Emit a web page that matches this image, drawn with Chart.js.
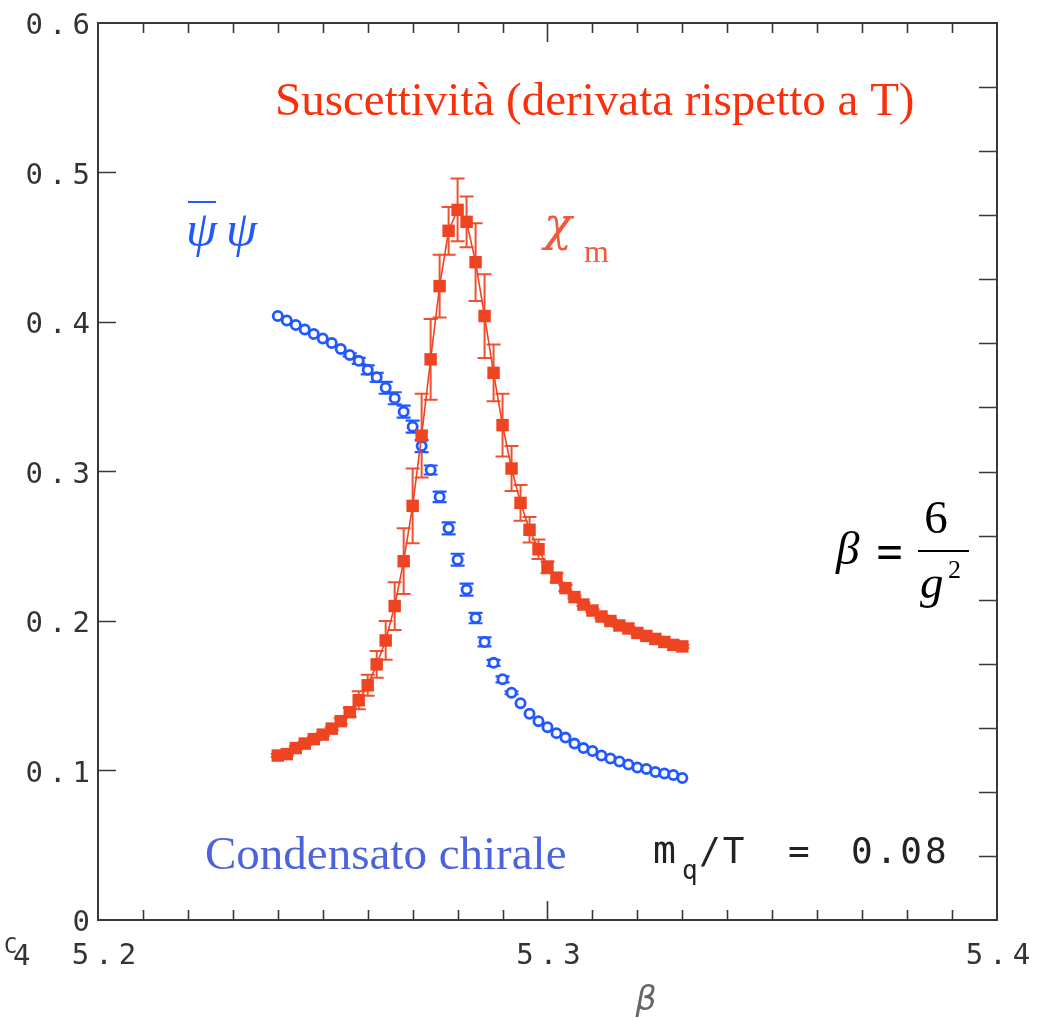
<!DOCTYPE html>
<html><head><meta charset="utf-8">
<script src="https://cdn.jsdelivr.net/npm/chart.js@4.4.1/dist/chart.umd.min.js"></script>
<style>html,body{margin:0;padding:0;background:#fff;}canvas{display:block;}</style>
</head><body>
<canvas id="c" width="1048" height="1018"></canvas>
<script>
// ---- data ----
const betaValues = [5.240,5.242,5.244,5.246,5.248,5.250,5.252,5.254,5.256,5.258,
  5.260,5.262,5.264,5.266,5.268,5.270,5.272,5.274,5.276,5.278,
  5.280,5.282,5.284,5.286,5.288,5.290,5.292,5.294,5.296,5.298,
  5.300,5.302,5.304,5.306,5.308,5.310,5.312,5.314,5.316,5.318,
  5.320,5.322,5.324,5.326,5.328,5.330];
const psiValues = [0.404,0.401,0.398,0.395,0.392,0.389,0.386,0.382,0.378,0.374,
  0.368,0.363,0.356,0.349,0.340,0.330,0.317,0.301,0.283,0.262,
  0.241,0.221,0.202,0.186,0.172,0.161,0.152,0.145,0.138,0.133,
  0.129,0.125,0.122,0.118,0.115,0.113,0.110,0.108,0.106,0.104,
  0.102,0.101,0.099,0.098,0.097,0.095];
const psiErrors = [0,0,0,0,0,0,0,0,0.001,0.002,
  0.003,0.003,0.004,0.004,0.004,0.004,0.004,0.003,0.0035,0.004,
  0.004,0.004,0.0035,0.003,0.002,0.002,0.001,0,0,0,
  0,0,0,0,0,0,0,0,0,0,
  0,0,0,0,0,0];
const chiValues = [0.110,0.111,0.115,0.118,0.121,0.124,0.128,0.133,0.139,0.147,
  0.157,0.171,0.187,0.210,0.240,0.277,0.324,0.375,0.424,0.461,
  0.475,0.467,0.440,0.404,0.366,0.331,0.302,0.279,0.261,0.248,
  0.236,0.229,0.222,0.216,0.211,0.207,0.203,0.200,0.197,0.195,
  0.192,0.190,0.188,0.186,0.184,0.183];
const chiErrors = [0.001,0.001,0.001,0.001,0.001,0.001,0.001,0.002,0.003,0.006,
  0.007,0.009,0.013,0.016,0.022,0.025,0.028,0.027,0.021,0.016,
  0.021,0.017,0.026,0.028,0.019,0.021,0.015,0.012,0.0085,0.0065,
  0.004,0.003,0.002,0.001,0.001,0.001,0.001,0.001,0.001,0.001,
  0.001,0.001,0.001,0.001,0.001,0.001];
const xTickLabels = [5.2, 5.3, 5.4];
const yTickLabels = [0, 0.1, 0.2, 0.3, 0.4, 0.5, 0.6];

// ---- styles ----
const RED = '#ee4422', BLUE = '#2158ff', AXIS = '#383838';
const MONO = '"DejaVu Sans Mono", monospace';
const SERIF = '"Liberation Serif", "Times New Roman", serif';

function txt(ctx, s, x, y, font, color, align, ls) {
  ctx.save();
  ctx.font = font; ctx.fillStyle = color;
  ctx.textAlign = align || 'left'; ctx.textBaseline = 'alphabetic';
  ctx.letterSpacing = ls || '0px';
  ctx.fillText(s, x, y);
  ctx.restore();
}
function line(ctx, x1, y1, x2, y2) { ctx.moveTo(x1, y1); ctx.lineTo(x2, y2); }

function drawErr(ctx, xs, ys, errs, sx, sy, color, lw, cap) {
  ctx.save(); ctx.strokeStyle = color; ctx.lineWidth = lw; ctx.beginPath();
  for (let i = 0; i < xs.length; i++) {
    const e = errs[i]; if (!e) continue;
    const px = sx.getPixelForValue(xs[i]);
    const y1 = sy.getPixelForValue(ys[i] + e), y2 = sy.getPixelForValue(ys[i] - e);
    line(ctx, px, y1, px, y2);
    line(ctx, px - cap, y1, px + cap, y1);
    line(ctx, px - cap, y2, px + cap, y2);
  }
  ctx.stroke(); ctx.restore();
}

const decor = {
  id: 'decor',
  beforeDatasetsDraw(chart) {
    const ctx = chart.ctx, sx = chart.scales.x, sy = chart.scales.y;
    drawErr(ctx, betaValues, psiValues, psiErrors, sx, sy, BLUE, 2.2, 7);
    drawErr(ctx, betaValues, chiValues, chiErrors, sx, sy, '#f05030', 2, 7);
  },
  afterDraw(chart) {
    const ctx = chart.ctx, sx = chart.scales.x, sy = chart.scales.y, sy2 = chart.scales.y2;
    const a = chart.chartArea;
    // inward ticks
    ctx.save(); ctx.strokeStyle = AXIS; ctx.lineWidth = 1.6; ctx.beginPath();
    for (let k = 1; k < 20; k++) {
      const v = 5.2 + k * 0.01;
      const px = Math.round(sx.getPixelForValue(v)) + 0.5;
      const len = (k === 10) ? 19 : 10;
      line(ctx, px, a.bottom, px, a.bottom - len);
      line(ctx, px, a.top, px, a.top + len);
    }
    for (let k = 1; k < 6; k++) {
      const py = Math.round(sy.getPixelForValue(k * 0.1)) + 0.5;
      line(ctx, a.left, py, a.left + 18, py);
    }
    for (let k = 1; k < 14; k++) {
      const py = Math.round(sy2.getPixelForValue(k)) + 0.5;
      line(ctx, a.right, py, a.right - 18, py);
    }
    ctx.stroke(); ctx.restore();

    // tick labels
    yTickLabels.forEach(v => {
      const py = sy.getPixelForValue(v);
      txt(ctx, String(v), 90 + 6, py + 11, '29px ' + MONO, '#333', 'right', '6px');
    });
    xTickLabels.forEach(v => {
      const px = sx.getPixelForValue(v);
      txt(ctx, v.toFixed(1), px + 4 + (v === 5.2 ? 5 : 0), 964, '29px ' + MONO, '#333', 'center', '6px');
    });
    txt(ctx, 'C', 4, 953, '22px ' + MONO, '#333', 'left');
    txt(ctx, '4', 13, 965, '29px ' + MONO, '#333', 'left');
    // axis title
    txt(ctx, 'β', 646, 1010, 'italic 33px "DejaVu Sans", sans-serif', '#666', 'center');

    // annotations
    txt(ctx, 'Suscettività (derivata rispetto a T)', 275, 115, '47px ' + SERIF, '#f8300c', 'left');
    txt(ctx, 'Condensato chirale', 205, 869, '47px ' + SERIF, '#4d63dc', 'left');
    // psi-bar psi
    txt(ctx, 'ψ', 186, 246, 'italic 50px ' + SERIF, BLUE, 'left');
    txt(ctx, 'ψ', 226, 246, 'italic 50px ' + SERIF, BLUE, 'left');
    ctx.save(); ctx.strokeStyle = BLUE; ctx.lineWidth = 2; ctx.beginPath();
    line(ctx, 188, 202, 216, 202); ctx.stroke(); ctx.restore();
    // chi_m
    txt(ctx, 'χ', 544, 240, 'italic 46px "DejaVu Serif", serif', '#f05a3a', 'left');
    txt(ctx, 'm', 584, 262, '32px ' + SERIF, '#f05a3a', 'left');
    // beta = 6/g^2
    txt(ctx, 'β', 836, 564, 'italic 47px ' + SERIF, '#000', 'left');
    txt(ctx, '=', 876, 568, 'bold 48px ' + SERIF, '#000', 'left');
    txt(ctx, '6', 936, 533, '47px ' + SERIF, '#000', 'center');
    ctx.save(); ctx.fillStyle = '#000'; ctx.fillRect(918, 550, 51, 2); ctx.restore();
    txt(ctx, 'g', 920, 598, 'italic 47px ' + SERIF, '#000', 'left');
    txt(ctx, '2', 948, 578, '26px ' + SERIF, '#000', 'left');
    // m_q/T = 0.08
    txt(ctx, 'm', 653, 863, '38px ' + MONO, '#222', 'left');
    txt(ctx, 'q', 682, 879, '26px ' + MONO, '#222', 'left');
    txt(ctx, '/T', 699, 863, '36px ' + MONO, '#222', 'left', '2px');
    txt(ctx, '=', 788, 863, '36px ' + MONO, '#222', 'left');
    txt(ctx, '0.08', 851, 863, '36px ' + MONO, '#222', 'left', '3px');
  }
};

const fixSize = (w, h) => s => { if (w != null) s.width = w; if (h != null) s.height = h; };
const baseScale = {
  grid: { display: false, drawTicks: false },
  border: { display: true, color: AXIS, width: 2 },
  ticks: { display: false }
};

new Chart(document.getElementById('c'), {
  type: 'scatter',
  data: {
    datasets: [
      {
        label: 'chi_m',
        data: betaValues.map((b, i) => ({ x: b, y: chiValues[i] })),
        showLine: true, borderColor: RED, borderWidth: 1.6,
        pointStyle: 'rect', pointRadius: 8.8, pointBackgroundColor: RED,
        pointBorderWidth: 0, pointBorderColor: RED
      },
      {
        label: 'psibar psi',
        data: betaValues.map((b, i) => ({ x: b, y: psiValues[i] })),
        showLine: false,
        pointStyle: 'circle', pointRadius: 4.6, pointBackgroundColor: '#ffffff',
        pointBorderColor: BLUE, pointBorderWidth: 2.8
      }
    ]
  },
  options: {
    responsive: false, animation: false,
    layout: { padding: 0 },
    plugins: { legend: { display: false }, tooltip: { enabled: false } },
    scales: {
      x: Object.assign({}, baseScale, { type: 'linear', position: 'bottom', min: 5.2, max: 5.4, afterFit: fixSize(null, 98) }),
      x2: Object.assign({}, baseScale, { type: 'linear', position: 'top', min: 5.2, max: 5.4, afterFit: fixSize(null, 23) }),
      y: Object.assign({}, baseScale, { type: 'linear', position: 'left', min: 0, max: 0.6, afterFit: fixSize(98, null) }),
      y2: Object.assign({}, baseScale, { type: 'linear', position: 'right', min: 0, max: 14, afterFit: fixSize(51, null) })
    }
  },
  plugins: [decor]
});
</script>
</body></html>
